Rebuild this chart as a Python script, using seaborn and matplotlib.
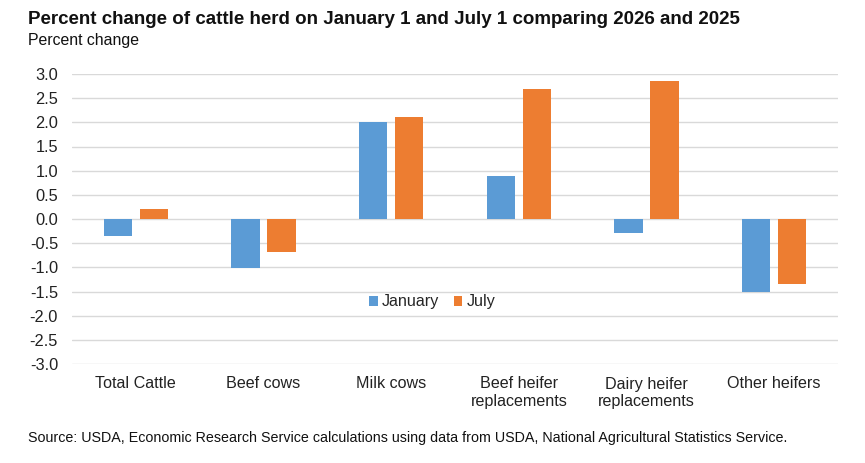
import pandas as pd
import matplotlib
matplotlib.use("Agg")
import matplotlib.pyplot as plt
import seaborn as sns

# -------------------------
# Data
# -------------------------
categories = ["Total Cattle", "Beef cows", "Milk cows",
              "Beef heifer\nreplacements", "Dairy heifer\nreplacements", "Other heifers"]
january = [-0.35, -1.02, 2.0, 0.89, -0.28, -1.5]
july = [0.21, -0.69, 2.12, 2.7, 2.86, -1.35]
series = ["January", "July"]
colors = ["#5B9BD5", "#ED7D31"]
yticks = [-3.0, -2.5, -2.0, -1.5, -1.0, -0.5, 0.0, 0.5, 1.0, 1.5, 2.0, 2.5, 3.0]

df = pd.DataFrame({
    "category": categories * 2,
    "month": [series[0]] * len(categories) + [series[1]] * len(categories),
    "value": january + july,
})

# -------------------------
# Plot
# -------------------------
sns.set_style("white")
plt.rcParams["font.family"] = ["Liberation Sans", "DejaVu Sans"]

fig = plt.figure(figsize=(8.65, 4.63), dpi=100)
ax = fig.add_axes([72 / 865, 1 - 364 / 463, 766 / 865, 290 / 463])

sns.barplot(data=df, x="category", y="value", hue="month",
            palette=colors, width=0.564, gap=0.22, ax=ax,
            saturation=1, linewidth=0, zorder=3)

ax.set_ylim(-3.0, 3.0)
ax.set_yticks(yticks)
ax.set_yticklabels([f"{t:.1f}" for t in yticks], fontsize=11.8, color="#222222")
ax.tick_params(axis="x", labelsize=11.6, colors="#222222", length=0, pad=9)
ax.tick_params(axis="y", length=0, pad=10)
ax.set_xlim(-0.5, len(categories) - 0.5)
ax.yaxis.grid(True, color="#D9D9D9", linewidth=1, zorder=0)
ax.set_axisbelow(True)
for s in ax.spines.values():
    s.set_visible(False)
ax.set_xlabel("")
ax.set_ylabel("")

ax.legend(loc="center", bbox_to_anchor=(0.47, 0.214), ncol=2, frameon=False,
          fontsize=11.6, handlelength=0.55, handleheight=0.55,
          handletextpad=0.25, columnspacing=0.9)

fig.text(28 / 865, 1 - 20 / 463, "Percent change of cattle herd on January 1 and July 1 comparing 2026 and 2025",
         fontsize=13.5, fontweight="bold", va="center", ha="left", color="#111111")
fig.text(28 / 865, 1 - 40 / 463, "Percent change", fontsize=11.4, va="center", ha="left", color="#111111")
fig.text(28 / 865, 1 - 438 / 463,
         "Source: USDA, Economic Research Service calculations using data from USDA, National Agricultural Statistics Service.",
         fontsize=10.25, va="center", ha="left", color="#111111")

fig.savefig("out.png", dpi=100)
